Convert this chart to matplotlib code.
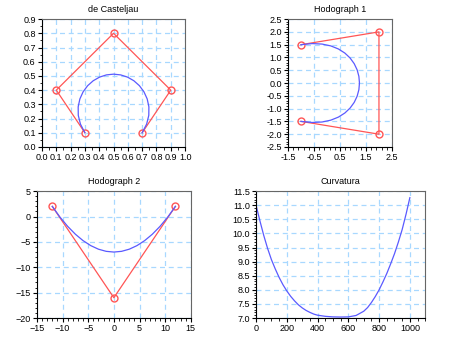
import matplotlib
matplotlib.use("Agg")
import matplotlib.pyplot as plt
from matplotlib.ticker import MultipleLocator, AutoMinorLocator, FormatStrFormatter

# control polygon (de Casteljau)
ctrl_x = [0.3, 0.1, 0.5, 0.9, 0.7]
ctrl_y = [0.1, 0.4, 0.8, 0.4, 0.1]
curve_x = [0.300, 0.2687, 0.2536, 0.2529, 0.2648, 0.2875, 0.3192, 0.3581, 0.4024, 0.4503,
           0.500, 0.5497, 0.5976, 0.6419, 0.6808, 0.7125, 0.7352, 0.7471, 0.7464, 0.7313, 0.700]
curve_y = [0.100, 0.1611, 0.2226, 0.2823, 0.3381, 0.3883, 0.4314, 0.4662, 0.4917, 0.5073,
           0.5125, 0.5073, 0.4917, 0.4662, 0.4314, 0.3883, 0.3381, 0.2823, 0.2226, 0.1611, 0.100]

# hodograph 1
h1_ctrl_x = [-1.0, 2.0, 2.0, -1.0]
h1_ctrl_y = [1.5, 2.0, -2.0, -1.5]
h1_x = [-1.0, -0.5725, -0.19, 0.1475, 0.44, 0.6875, 0.89, 1.0475, 1.16, 1.2275, 1.25,
        1.2275, 1.16, 1.0475, 0.89, 0.6875, 0.44, 0.1475, -0.19, -0.5725, -1.0]
h1_y = [1.5, 1.5424, 1.524, 1.4516, 1.332, 1.1719, 0.978, 0.7571, 0.516, 0.2614, 0.0,
        -0.2614, -0.516, -0.7571, -0.978, -1.1719, -1.332, -1.4516, -1.524, -1.5424, -1.5]

# hodograph 2
h2_ctrl_x = [12.0, 0.0, -12.0]
h2_ctrl_y = [2.0, -16.0, 2.0]
h2_x = [12, 10.5, 9, 7.5, 6, 4.5, 3, 1.5, 0, -1.5, -3, -4.5, -6, -7.5, -9, -10.5, -12]
h2_y = [2.0, -0.109, -1.9375, -3.484, -4.75, -5.734, -6.4375, -6.859, -7.0,
        -6.859, -6.4375, -5.734, -4.75, -3.484, -1.9375, -0.109, 2.0]

# curvature
k_x = [0, 25, 50, 75, 100, 125, 150, 175, 200, 225, 250, 275, 300, 325, 350, 375, 400,
       450, 500, 550, 600, 650, 700, 725, 750, 775, 800, 825, 850, 875, 900, 925, 950,
       975, 1000]
k_y = [11.0, 10.45, 9.93, 9.47, 9.07, 8.74, 8.44, 8.18, 7.96, 7.77, 7.61, 7.47, 7.36,
       7.27, 7.2, 7.14, 7.1, 7.06, 7.04, 7.035, 7.04, 7.09, 7.24, 7.37, 7.55, 7.76, 8.0,
       8.28, 8.58, 8.92, 9.28, 9.69, 10.14, 10.68, 11.27]

RED = '#ff5555'
BLUE = '#5a5aff'
GRID = '#a8d8ff'

plt.rcParams['font.family'] = 'Liberation Sans'
plt.rcParams['font.size'] = 6.5

fig = plt.figure(figsize=(4.5, 3.41), dpi=100)


def style(ax, xlim, ylim, xstep, ystep, title):
    ax.set_xlim(xlim)
    ax.set_ylim(ylim)
    ax.xaxis.set_major_locator(MultipleLocator(xstep))
    ax.yaxis.set_major_locator(MultipleLocator(ystep))
    ax.xaxis.set_minor_locator(AutoMinorLocator())
    ax.yaxis.set_minor_locator(AutoMinorLocator())
    ax.grid(True, which='major', color=GRID, linestyle=(0, (4, 3)), linewidth=0.9)
    ax.set_axisbelow(True)
    ax.tick_params(which='major', length=3, width=0.8, labelsize=6.5, pad=1.5)
    ax.tick_params(which='minor', length=1.8, width=0.6)
    for s in ('top', 'right'):
        ax.spines[s].set_color('#666666')
    for s in ('left', 'bottom'):
        ax.spines[s].set_color('black')
    ax.set_title(title, fontsize=6.5, pad=5)


ax1 = fig.add_axes([0.0933, 0.569, 0.318, 0.375])
ax1.plot(ctrl_x, ctrl_y, color=RED, lw=0.9, marker='o', mfc='none', mec=RED, ms=5)
ax1.plot(curve_x, curve_y, color=BLUE, lw=0.9)
style(ax1, (0, 1), (0, 0.9), 0.1, 0.1, 'de Casteljau')
ax1.xaxis.set_major_formatter(FormatStrFormatter('%.1f'))
ax1.yaxis.set_major_formatter(FormatStrFormatter('%.1f'))
ax1.xaxis.set_minor_locator(AutoMinorLocator(2))
ax1.yaxis.set_minor_locator(AutoMinorLocator(2))

ax2 = fig.add_axes([0.64, 0.569, 0.231, 0.375])
ax2.plot(h1_ctrl_x, h1_ctrl_y, color=RED, lw=0.9, marker='o', mfc='none', mec=RED, ms=5)
ax2.plot(h1_x, h1_y, color=BLUE, lw=0.9)
style(ax2, (-1.5, 2.5), (-2.5, 2.5), 1.0, 0.5, 'Hodograph 1')
ax2.set_xticks([-1.5, -0.5, 0.5, 1.5, 2.5])
ax2.xaxis.set_major_formatter(FormatStrFormatter('%.1f'))
ax2.yaxis.set_major_formatter(FormatStrFormatter('%.1f'))

ax3 = fig.add_axes([0.082, 0.0674, 0.342, 0.372])
ax3.plot(h2_ctrl_x, h2_ctrl_y, color=RED, lw=0.9, marker='o', mfc='none', mec=RED, ms=5)
ax3.plot(h2_x, h2_y, color=BLUE, lw=0.9)
style(ax3, (-15, 15), (-20, 5), 5, 5, 'Hodograph 2')

ax4 = fig.add_axes([0.569, 0.0674, 0.376, 0.372])
ax4.plot(k_x, k_y, color=BLUE, lw=0.9)
style(ax4, (0, 1100), (7.0, 11.5), 200, 0.5, 'Curvatura')
ax4.set_xticks([0, 200, 400, 600, 800, 1000])
ax4.yaxis.set_major_formatter(FormatStrFormatter('%.1f'))

fig.savefig('out.png', dpi=100)
